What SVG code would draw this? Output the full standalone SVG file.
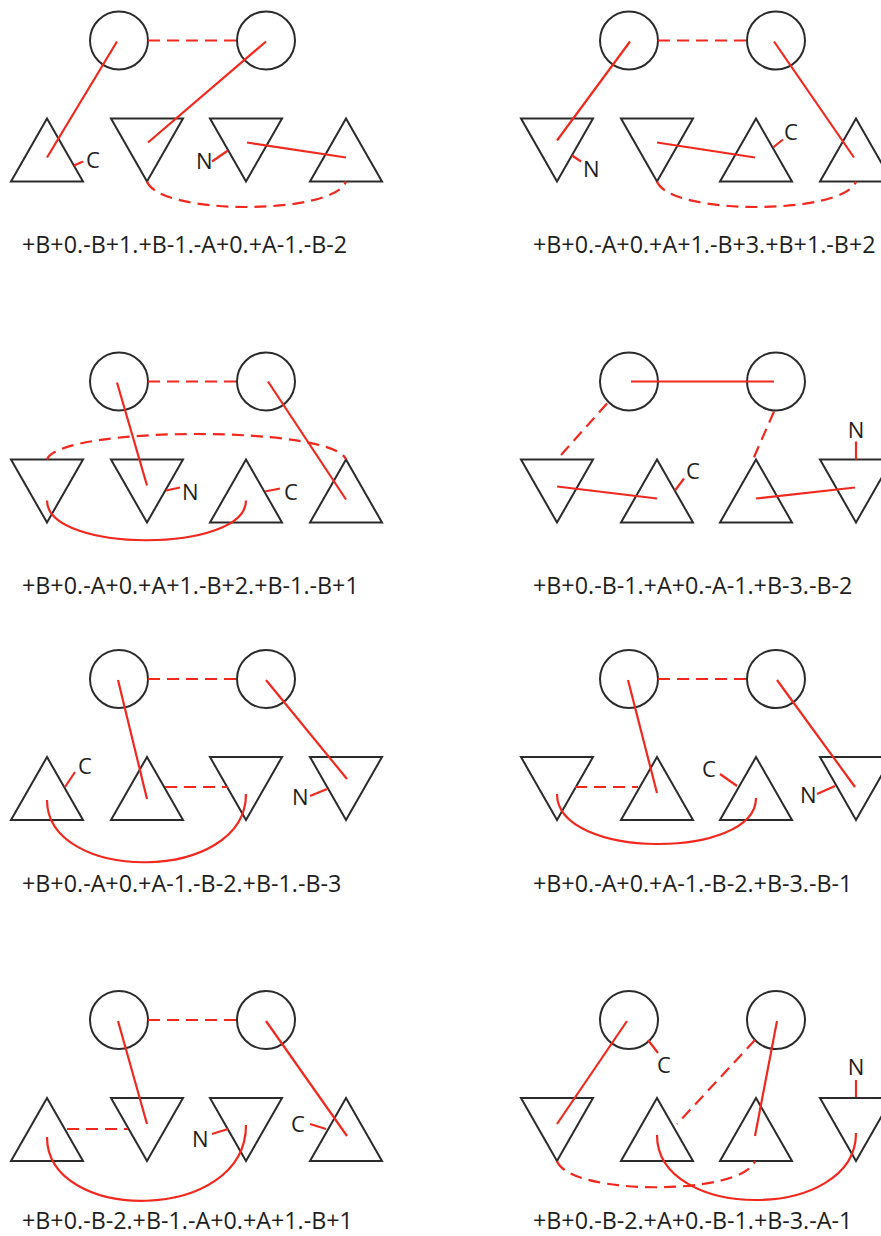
<svg xmlns="http://www.w3.org/2000/svg" xmlns:xlink="http://www.w3.org/1999/xlink" width="881" height="1236" viewBox="0 0 881 1236">
<style>
.c{fill:none;stroke:#2b2b2b;stroke-width:2}
.t{fill:none;stroke:#2b2b2b;stroke-width:2;stroke-linejoin:miter}
.r{fill:none;stroke:#f0281e;stroke-width:2.2;stroke-linecap:butt}
.d{fill:none;stroke:#f0281e;stroke-width:2.2;stroke-dasharray:12 7}
.lbl{font-family:"Open Sans","Liberation Sans",sans-serif;font-size:22px;fill:#1e1e1e}
.cap{font-family:"Open Sans","Liberation Sans",sans-serif;font-size:23.3px;fill:#1e1e1e}
</style>
<defs>
<polygon id="up" class="t" points="0,78 36,141 -36,141"/>
<polygon id="dn" class="t" points="-36,78 36,78 0,141"/>
</defs>
<rect width="881" height="1236" fill="#fff"/>

<!-- Panel 1 -->
<g id="p1" transform="translate(0,40.5)">
<g id="p1-cA"><circle class="c" cx="119" cy="0" r="29"/></g>
<g id="p1-cB"><circle class="c" cx="266" cy="0" r="29"/></g>
<g id="p1-t1"><use href="#up" x="47"/></g>
<g id="p1-t2"><use href="#dn" x="147"/></g>
<g id="p1-t3"><use href="#dn" x="246"/></g>
<g id="p1-t4"><use href="#up" x="346"/></g>
<g id="p1-C"><text class="lbl" x="86" y="127">C</text></g>
<g id="p1-N"><text class="lbl" x="196" y="128">N</text></g>
<g id="p1-connectors">
<path class="d" d="M148,0 H237"/>
<path class="r" d="M117,1 L47,117"/>
<path class="r" d="M266,1 L148,102"/>
<path class="r" d="M247,102 L346,117"/>
<path class="d" d="M147,141 C160,175 333,175 346,141"/>
<path class="r" d="M74,125 L83,121"/>
<path class="r" d="M212,121 L228,110"/>
</g>
<text class="cap" x="22" y="212.5">+B+0.-B+1.+B-1.-A+0.+A-1.-B-2</text>
</g>

<!-- Panel 2 -->
<g id="p2" transform="translate(510,40.5)">
<g id="p2-cA"><circle class="c" cx="119" cy="0" r="29"/></g>
<g id="p2-cB"><circle class="c" cx="266" cy="0" r="29"/></g>
<g id="p2-t1"><use href="#dn" x="47"/></g>
<g id="p2-t2"><use href="#dn" x="147"/></g>
<g id="p2-t3"><use href="#up" x="246"/></g>
<g id="p2-t4"><use href="#up" x="346"/></g>
<g id="p2-N"><text class="lbl" x="73" y="136">N</text></g>
<g id="p2-C"><text class="lbl" x="274" y="99">C</text></g>
<g id="p2-connectors">
<path class="d" d="M148,0 H237"/>
<path class="r" d="M120,1 L47,100"/>
<path class="r" d="M264,1 L344,117"/>
<path class="r" d="M147,102 L245,117"/>
<path class="d" d="M147,141 C160,175 333,175 346,141"/>
<path class="r" d="M62,115 L71,121"/>
<path class="r" d="M263,107 L273,99"/>
</g>
<text class="cap" x="23" y="212.5">+B+0.-A+0.+A+1.-B+3.+B+1.-B+2</text>
</g>

<!-- Panel 3 -->
<g id="p3" transform="translate(0,381.5)">
<g id="p3-cA"><circle class="c" cx="119" cy="0" r="29"/></g>
<g id="p3-cB"><circle class="c" cx="266" cy="0" r="29"/></g>
<g id="p3-t1"><use href="#dn" x="47"/></g>
<g id="p3-t2"><use href="#dn" x="147"/></g>
<g id="p3-t3"><use href="#up" x="246"/></g>
<g id="p3-t4"><use href="#up" x="346"/></g>
<g id="p3-N"><text class="lbl" x="182" y="118">N</text></g>
<g id="p3-C"><text class="lbl" x="284" y="118">C</text></g>
<g id="p3-connectors">
<path class="d" d="M148,0 H237"/>
<path class="r" d="M117,1 L147,104"/>
<path class="r" d="M268,0 L346,118"/>
<path class="d" d="M47,78 C60,44 334,44 346,78"/>
<path class="r" d="M47,119 C47,172 246,172 246,119"/>
<path class="r" d="M166,109 L180,106"/>
<path class="r" d="M265,110 L280,107"/>
</g>
<text class="cap" x="22" y="212.5">+B+0.-A+0.+A+1.-B+2.+B-1.-B+1</text>
</g>

<!-- Panel 4 -->
<g id="p4" transform="translate(510,381.5)">
<g id="p4-cA"><circle class="c" cx="119" cy="0" r="29"/></g>
<g id="p4-cB"><circle class="c" cx="266" cy="0" r="29"/></g>
<g id="p4-t1"><use href="#dn" x="47"/></g>
<g id="p4-t2"><use href="#up" x="147"/></g>
<g id="p4-t3"><use href="#up" x="246"/></g>
<g id="p4-t4"><use href="#dn" x="346"/></g>
<g id="p4-C"><text class="lbl" x="176" y="97">C</text></g>
<g id="p4-N"><text class="lbl" x="346" y="56" text-anchor="middle">N</text></g>
<g id="p4-connectors">
<path class="r" d="M121,0 L264,0"/>
<path class="d" d="M97,22 L47,78"/>
<path class="d" d="M264,30 L243,78"/>
<path class="r" d="M47,105 L147,117"/>
<path class="r" d="M246,117 L345,106"/>
<path class="r" d="M165,109 L174,97"/>
<path class="r" d="M346,60 L346,78"/>
</g>
<text class="cap" x="23" y="212.5">+B+0.-B-1.+A+0.-A-1.+B-3.-B-2</text>
</g>

<!-- Panel 5 -->
<g id="p5" transform="translate(0,679)">
<g id="p5-cA"><circle class="c" cx="119" cy="0" r="29"/></g>
<g id="p5-cB"><circle class="c" cx="266" cy="0" r="29"/></g>
<g id="p5-t1"><use href="#up" x="47"/></g>
<g id="p5-t2"><use href="#up" x="147"/></g>
<g id="p5-t3"><use href="#dn" x="246"/></g>
<g id="p5-t4"><use href="#dn" x="346"/></g>
<g id="p5-C"><text class="lbl" x="78" y="95">C</text></g>
<g id="p5-N"><text class="lbl" x="292" y="126">N</text></g>
<g id="p5-connectors">
<path class="d" d="M148,0 H237"/>
<path class="r" d="M118,1 L147,120"/>
<path class="r" d="M266,1 L347,100"/>
<path class="d" d="M165,108 L228,108"/>
<path class="r" d="M47,121 C47,205 246,205 246,115"/>
<path class="r" d="M65,108 L75,93"/>
<path class="r" d="M310,117 L327,110"/>
</g>
<text class="cap" x="22" y="212.5">+B+0.-A+0.+A-1.-B-2.+B-1.-B-3</text>
</g>

<!-- Panel 6 -->
<g id="p6" transform="translate(510,679)">
<g id="p6-cA"><circle class="c" cx="119" cy="0" r="29"/></g>
<g id="p6-cB"><circle class="c" cx="266" cy="0" r="29"/></g>
<g id="p6-t1"><use href="#dn" x="47"/></g>
<g id="p6-t2"><use href="#up" x="147"/></g>
<g id="p6-t3"><use href="#up" x="246"/></g>
<g id="p6-t4"><use href="#dn" x="346"/></g>
<g id="p6-C"><text class="lbl" x="192" y="98">C</text></g>
<g id="p6-N"><text class="lbl" x="290" y="124">N</text></g>
<g id="p6-connectors">
<path class="d" d="M148,0 H237"/>
<path class="r" d="M118,1 L147,114"/>
<path class="r" d="M267,1 L345,108"/>
<path class="d" d="M65,108 L128,108"/>
<path class="r" d="M47,115 C47,181 246,181 246,119"/>
<path class="r" d="M210,95 L227,107"/>
<path class="r" d="M307,115 L325,107"/>
</g>
<text class="cap" x="23" y="212.5">+B+0.-A+0.+A-1.-B-2.+B-3.-B-1</text>
</g>

<!-- Panel 7 -->
<g id="p7" transform="translate(0,1020)">
<g id="p7-cA"><circle class="c" cx="119" cy="0" r="29"/></g>
<g id="p7-cB"><circle class="c" cx="266" cy="0" r="29"/></g>
<g id="p7-t1"><use href="#up" x="47"/></g>
<g id="p7-t2"><use href="#dn" x="147"/></g>
<g id="p7-t3"><use href="#dn" x="246"/></g>
<g id="p7-t4"><use href="#up" x="346"/></g>
<g id="p7-N"><text class="lbl" x="192" y="127">N</text></g>
<g id="p7-C"><text class="lbl" x="291" y="112">C</text></g>
<g id="p7-connectors">
<path class="d" d="M148,0 H237"/>
<path class="r" d="M118,1 L147,104"/>
<path class="r" d="M266,1 L347,116"/>
<path class="d" d="M67,109 L128,109"/>
<path class="r" d="M47,117 C47,204 246,204 246,105"/>
<path class="r" d="M212,114 L228,109"/>
<path class="r" d="M310,104 L326,109"/>
</g>
<text class="cap" x="22" y="209">+B+0.-B-2.+B-1.-A+0.+A+1.-B+1</text>
</g>

<!-- Panel 8 -->
<g id="p8" transform="translate(510,1020)">
<g id="p8-cA"><circle class="c" cx="119" cy="0" r="29"/></g>
<g id="p8-cB"><circle class="c" cx="266" cy="0" r="29"/></g>
<g id="p8-t1"><use href="#dn" x="47"/></g>
<g id="p8-t2"><use href="#up" x="147"/></g>
<g id="p8-t3"><use href="#up" x="246"/></g>
<g id="p8-t4"><use href="#dn" x="346"/></g>
<g id="p8-C"><text class="lbl" x="147" y="53">C</text></g>
<g id="p8-N"><text class="lbl" x="346" y="55" text-anchor="middle">N</text></g>
<g id="p8-connectors">
<path class="r" d="M117,1 L47,104"/>
<path class="r" d="M267,1 L245,116"/>
<path class="d" d="M245,20 L167,104"/>
<path class="d" d="M47,141 C60,176 232,176 245,141"/>
<path class="r" d="M147,115 C147,202 346,202 346,113"/>
<path class="r" d="M138,20 L148,33"/>
<path class="r" d="M346,60 L346,77"/>
</g>
<text class="cap" x="23" y="209">+B+0.-B-2.+A+0.-B-1.+B-3.-A-1</text>
</g>
</svg>
